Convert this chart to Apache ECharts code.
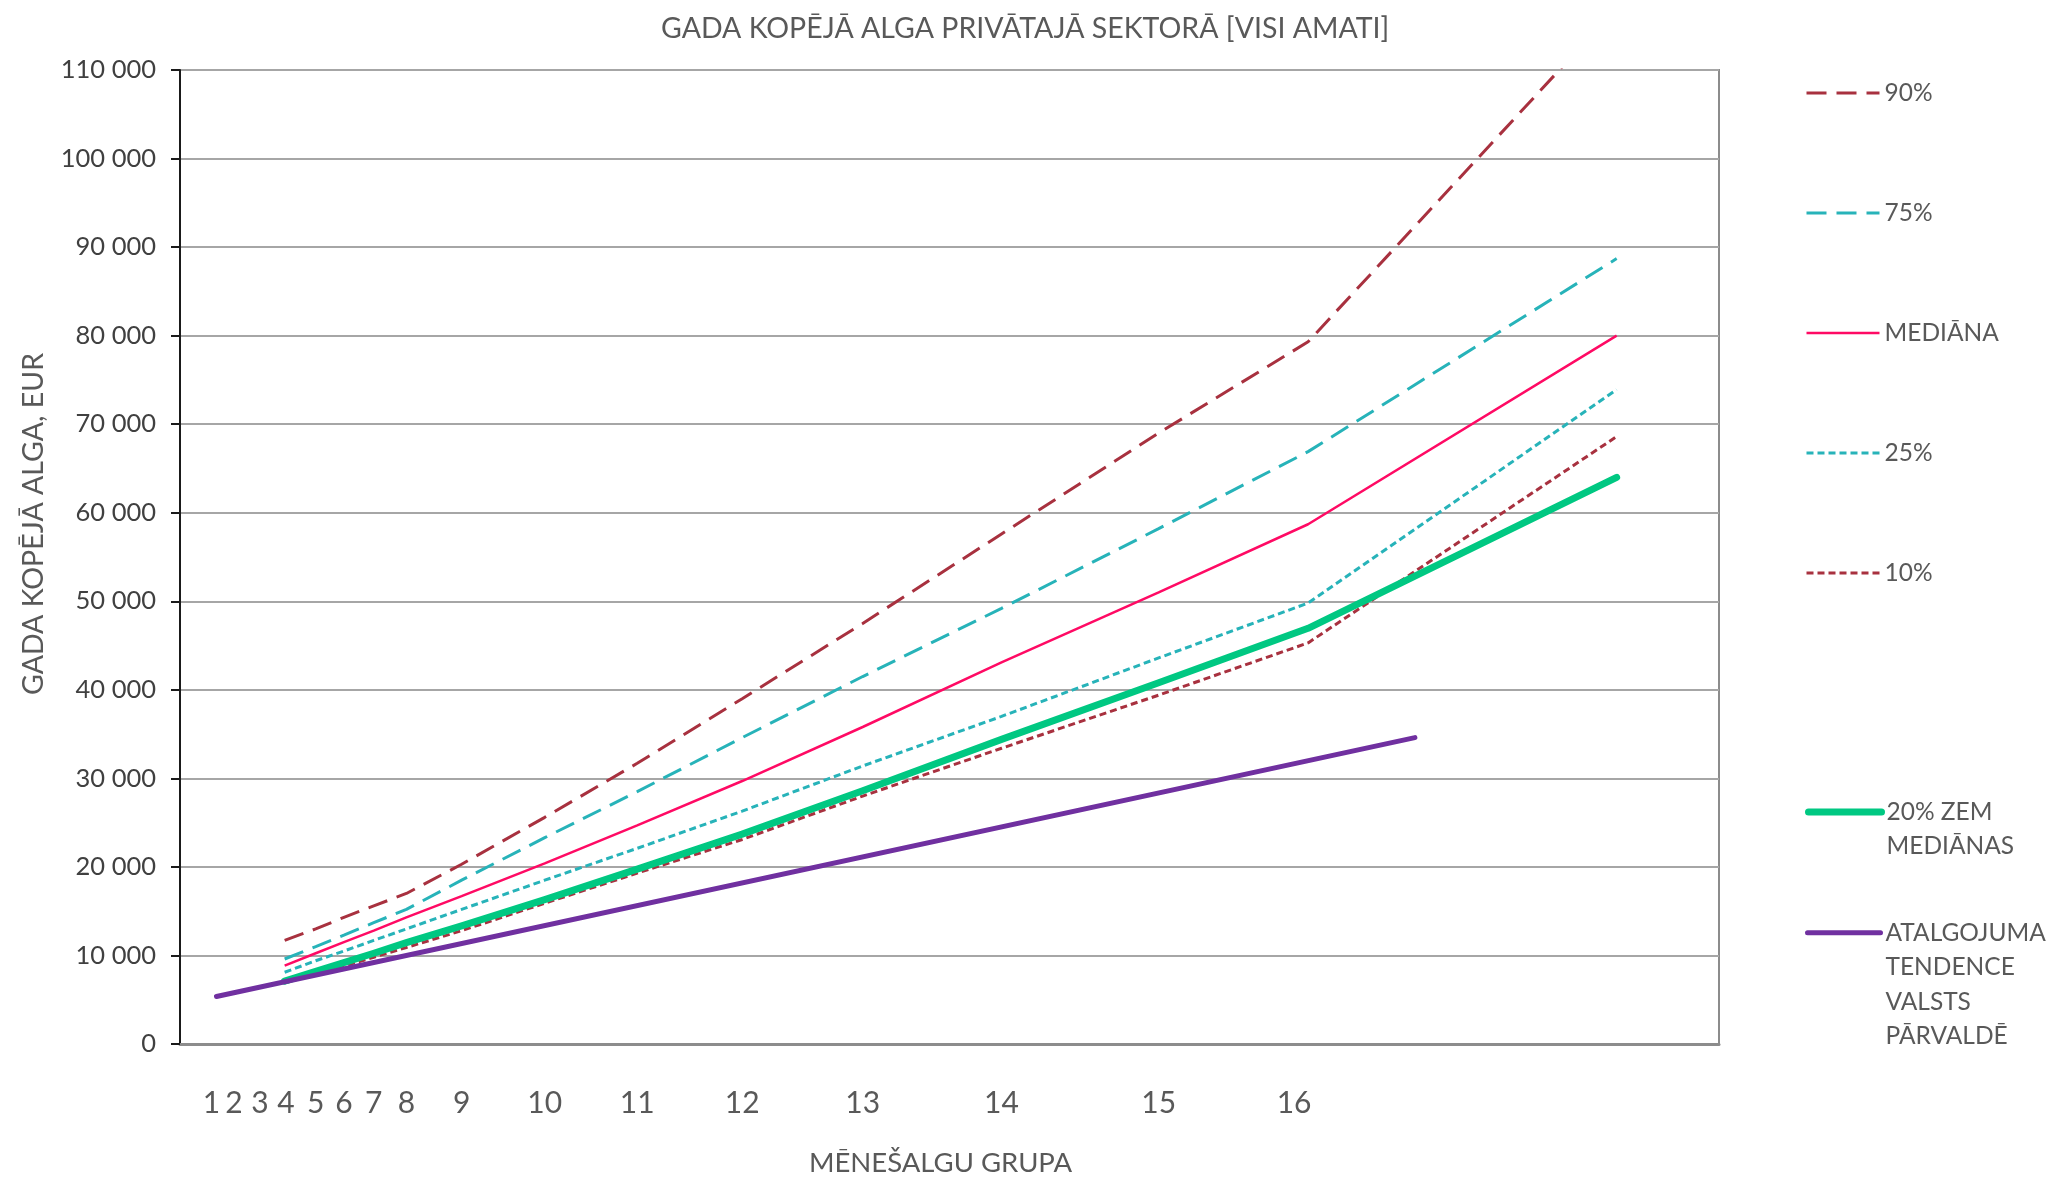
<!DOCTYPE html>
<html><head><meta charset="utf-8">
<script src="https://cdn.jsdelivr.net/npm/echarts@6/dist/echarts.min.js"></script>
<style>html,body{margin:0;padding:0;background:#fff;overflow:hidden}#c{width:2051px;height:1179px}</style>
</head><body><div id="c"></div><script>
// Monthly salary groups (labels on the x axis) and their positions on the x scale
const groupLabels = ['1','2','3','4','5','6','7','8','9','10','11','12','13','14','15','16'];
const groupLabelX = [2.05, 3.51, 5.19, 6.88, 8.82, 10.65, 12.59, 14.71, 18.30, 23.70, 29.71, 36.53, 44.36, 53.38, 63.59, 72.39];
// x positions of the percentile points (groups 4 … 17)
const pointX = [6.8, 8.82, 10.65, 12.59, 14.71, 18.30, 23.70, 29.71, 36.53, 44.36, 53.38, 63.59, 73.3, 93.35];
const p90    = [11700, 13000, 14300, 15600, 17000, 20300, 25600, 31700, 39000, 47500, 57600, 69000, 79300, 117000];
const p75    = [9600, 11000, 12300, 13700, 15200, 18500, 23300, 28500, 34600, 41500, 49200, 58200, 66900, 88700];
const median = [8850, 10250, 11500, 12800, 14300, 16700, 20400, 24700, 29700, 35800, 43100, 51000, 58700, 80000];
const p25    = [8100, 9400, 10500, 11700, 13000, 15200, 18500, 22100, 26300, 31400, 37000, 43600, 49800, 73900];
const p10    = [6900, 7900, 8800, 9800, 10900, 12800, 15900, 19300, 23100, 28000, 33400, 39400, 45300, 68600];
const below20 = [7100, 8200, 9200, 10250, 11450, 13350, 16300, 19750, 23700, 28600, 34400, 40800, 46950, 64000];
// public administration pay trend
const trendX = [2.37, 80.24];
const trendY = [5370, 34600];

const names = ['90%', '75%', 'MEDIĀNA', '25%', '10%', '20% ZEM\nMEDIĀNAS', 'ATALGOJUMA\nTENDENCE\nVALSTS\nPĀRVALDĒ'];
const FONT = 'Lato, "Open Sans", sans-serif';
const TXT = '#595959';

function pairs(xs, ys) { return xs.map((x, i) => [x, ys[i]]); }
function fmtThousands(v) { return String(v).replace(/\B(?=(\d{3})+(?!\d))/g, ' '); }
// keep the legend marker level with the first line of a multi-line label
function firstLineAligned(name) { const n = name.split('\n').length; return '\n'.repeat(n - 1) + name; }

const chart = echarts.init(document.getElementById('c'), null, {renderer: 'canvas'});
const lineSeries = (name, ys, color, width, type) => ({
  name, type: 'line', data: pairs(pointX, ys), symbol: 'none', smooth: false,
  lineStyle: {color, width, type, cap: 'butt'}, itemStyle: {color}, clip: true
});
const legendBase = {
  orient: 'vertical', left: 1805, padding: 0, itemWidth: 73, itemHeight: 30,
  itemStyle: {opacity: 0}, lineStyle: {width: 'inherit'}, formatter: firstLineAligned
};
chart.setOption({
  backgroundColor: '#fff',
  animation: false,
  title: {
    text: 'GADA KOPĒJĀ ALGA PRIVĀTAJĀ SEKTORĀ [VISI AMATI]',
    left: 656, top: 9,
    textStyle: {fontFamily: FONT, fontSize: 28.5, fontWeight: 'normal', color: TXT}
  },
  grid: {left: 180, right: 332, top: 70, bottom: 135, show: true, borderColor: '#8c8c8c', borderWidth: 2,
         containLabel: false, outerBoundsMode: 'none'},
  legend: [
    Object.assign({}, legendBase, {data: names.slice(0, 5), top: 78, itemGap: 90,
      textStyle: {fontFamily: FONT, fontSize: 24.5, color: TXT, lineHeight: 30}}),
    Object.assign({}, legendBase, {data: [names[5]], top: 761,
      textStyle: {fontFamily: FONT, fontSize: 24.5, color: TXT, lineHeight: 34}}),
    Object.assign({}, legendBase, {data: [names[6]], top: 812,
      textStyle: {fontFamily: FONT, fontSize: 24.5, color: TXT, lineHeight: 34.5}})
  ],
  xAxis: {
    type: 'value', min: 0, max: 100,
    name: 'MĒNEŠALGU GRUPA', nameLocation: 'middle', nameGap: 105,
    nameTextStyle: {fontFamily: FONT, fontSize: 27.5, color: TXT, padding: [0, 18, 0, 0]},
    axisLine: {show: true, lineStyle: {color: '#8c8c8c', width: 3}},
    axisTick: {show: false},
    splitLine: {show: false},
    axisLabel: {
      customValues: groupLabelX, margin: 44,
      fontFamily: FONT, fontSize: 30, color: TXT,
      formatter: function (v) {
        let best = 0, d = 1e9;
        groupLabelX.forEach((x, i) => { const dd = Math.abs(x - v); if (dd < d) { d = dd; best = i; } });
        return groupLabels[best] === '8' ? '{up|8}' : groupLabels[best];
      },
      rich: {up: {fontFamily: FONT, fontSize: 30, color: TXT, padding: [0, 0, 6, 0]}}
    }
  },
  yAxis: {
    type: 'value', min: 0, max: 110000, interval: 10000,
    name: 'GADA KOPĒJĀ ALGA, EUR', nameLocation: 'middle', nameGap: 132, nameRotate: 90,
    nameTextStyle: {fontFamily: FONT, fontSize: 28.5, color: TXT, padding: [0, 0, 0, 66]},
    axisLine: {show: true, lineStyle: {color: '#1a1a1a', width: 2}},
    axisTick: {show: true, inside: false, length: 9, lineStyle: {color: '#1a1a1a', width: 2}},
    splitLine: {show: true, lineStyle: {color: '#a6a6a6', width: 2}},
    axisLabel: {fontFamily: FONT, fontSize: 25.5, color: '#404040', margin: 24, formatter: fmtThousands}
  },
  series: [
    lineSeries(names[0], p90, '#a8313f', 3, [20, 10]),
    lineSeries(names[1], p75, '#27b3b9', 3, [20, 10]),
    lineSeries(names[2], median, '#ff0a64', 2.5, 'solid'),
    lineSeries(names[3], p25, '#27b3b9', 3, [7, 4]),
    lineSeries(names[4], p10, '#a8313f', 3, [7, 4]),
    {name: names[5], type: 'line', data: pairs(pointX, below20), symbol: 'none',
     lineStyle: {color: '#00c882', width: 7, cap: 'round', join: 'round'}, itemStyle: {color: '#00c882'}},
    {name: names[6], type: 'line', data: pairs(trendX, trendY), symbol: 'none',
     lineStyle: {color: '#7030a0', width: 5, cap: 'round'}, itemStyle: {color: '#7030a0'}}
  ]
});
</script></body></html>
